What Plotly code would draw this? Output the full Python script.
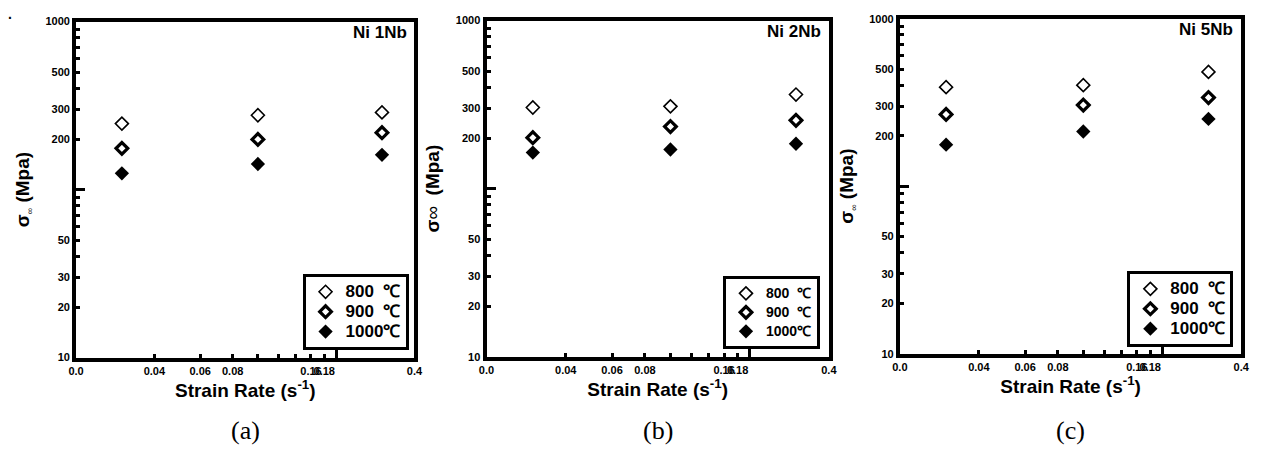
import plotly.graph_objects as go

W, H = 1269, 462

# ---- data ----
strain_rates = [0.03, 0.1, 0.3]
temps = ["800  ℃", "900  ℃", "1000℃"]
ni1nb_800 = [247, 277, 288]
ni1nb_900 = [176, 199, 218]
ni1nb_1000 = [125, 142, 161]
ni2nb_800 = [304, 309, 363]
ni2nb_900 = [201, 234, 255]
ni2nb_1000 = [164, 171, 185]
ni5nb_800 = [390, 401, 481]
ni5nb_900 = [268, 305, 338]
ni5nb_1000 = [177, 212, 252]
alloys = ["Ni 1Nb", "Ni 2Nb", "Ni 5Nb"]
panel_labels = ["(a)", "(b)", "(c)"]

x_tickvals = [0.02, 0.04, 0.06, 0.08, 0.1, 0.12, 0.14, 0.16, 0.18, 0.4]
x_ticktext = ["0.0", "0.04", "0.06", "0.08", "", "", "", "0.16", "0.18", "0.4"]
y_tickvals = [10, 20, 30, 40, 50, 60, 70, 80, 90, 200, 300, 400, 500, 600, 700, 800, 900, 1000]
y_ticktext = ["10", "20", "30", "", "50", "", "", "", "", "200", "300", "", "500", "", "", "", "", "1000"]

series = [
    [ni1nb_800, ni1nb_900, ni1nb_1000],
    [ni2nb_800, ni2nb_900, ni2nb_1000],
    [ni5nb_800, ni5nb_900, ni5nb_1000],
]

FONT = "Liberation Sans, Arial, sans-serif"

# panel geometry in pixels (left, right, top, bottom)
panels = [
    (69, 412, 16, 361),
    (485, 832, 15, 360),
    (904, 1250, 13, 357),
]
# legend: right px, bottom px, box font size, text font size
legend_pos = [(406, 353, 13, 17), (823, 352, 12, 14), (1242, 350, 13, 17)]
ytitles = [
    "σ<sub><span style='font-size:9px;font-weight:normal'>∞</span></sub> (Mpa)",
    "σ<span style='font-weight:normal'>∞</span>  (Mpa)",
    "σ<sub><span style='font-size:9px;font-weight:normal'>∞</span></sub> (Mpa)",
]

marker_styles = [
    dict(symbol="diamond-open", size=10, color="black", line=dict(width=1.6, color="black")),
    dict(symbol="diamond-open", size=9, color="black", line=dict(width=3.2, color="black")),
    dict(symbol="diamond", size=11, color="black", line=dict(width=0, color="black")),
]

fig = go.Figure()
layout = {}
annotations = []
for i, (vals, (l, r, t, b)) in enumerate(zip(series, panels)):
    sfx = "" if i == 0 else str(i + 1)
    leg = "legend" if i == 0 else f"legend{i + 1}"
    lx, ly, lf, tf = legend_pos[i]
    for name, v, ms in zip(temps, vals, marker_styles):
        fig.add_trace(go.Scatter(
            x=strain_rates, y=v, mode="markers",
            name=f"<span style='font-size:{tf}px'>{name}</span>",
            marker=ms, xaxis="x" + sfx, yaxis="y" + sfx, legend=leg,
        ))
    xd = [l / W, r / W]
    yd = [1 - b / H, 1 - t / H]
    layout["xaxis" + sfx] = dict(
        domain=xd, type="log", range=[-1.69897, -0.39794], anchor="y" + sfx,
        tickmode="array", tickvals=x_tickvals, ticktext=x_ticktext, tickangle=0,
        ticks="inside", ticklen=4, tickwidth=3, tickcolor="black",
        minor=dict(tickmode="array", tickvals=[0.2], ticks="inside", ticklen=10, tickwidth=3, tickcolor="black"),
        showline=True, linewidth=4, linecolor="black", mirror=True, showgrid=False, zeroline=False,
        tickfont=dict(family=FONT, size=11, color="black", weight="bold"),
        title=dict(text="Strain Rate (s<sup>-1</sup>)", font=dict(family=FONT, size=19, color="black", weight="bold"), standoff=5),
    )
    layout["yaxis" + sfx] = dict(
        domain=yd, type="log", range=[1, 3], anchor="x" + sfx,
        tickmode="array", tickvals=y_tickvals, ticktext=y_ticktext,
        ticks="inside", ticklen=4, tickwidth=3, tickcolor="black",
        minor=dict(tickmode="array", tickvals=[100], ticks="inside", ticklen=9, tickwidth=3, tickcolor="black"),
        showline=True, linewidth=4, linecolor="black", mirror=True, showgrid=False, zeroline=False,
        tickfont=dict(family=FONT, size=11, color="black", weight="bold"),
        title=dict(text=ytitles[i], font=dict(family=FONT, size=19, color="black", weight="bold"), standoff=12),
    )
    layout[leg] = dict(
        x=lx / W, y=1 - ly / H, xanchor="right", yanchor="bottom",
        bordercolor="black", borderwidth=3, bgcolor="white",
        font=dict(family=FONT, size=lf, color="black", weight="bold"),
        itemwidth=30, tracegroupgap=0,
    )
    annotations.append(dict(
        text=alloys[i], xref="paper", yref="paper", x=(r - 6) / W, y=1 - (t + 11) / H,
        xanchor="right", yanchor="middle", showarrow=False,
        font=dict(family=FONT, size=17, color="black", weight="bold"),
    ))
    annotations.append(dict(
        text=panel_labels[i], xref="paper", yref="paper", x=(l + r) / 2 / W, y=1 - 436 / H,
        xanchor="center", yanchor="middle", showarrow=False,
        font=dict(family="Liberation Serif, Times New Roman, serif", size=26, color="black"),
    ))

annotations.append(dict(text="<b>.</b>", xref="paper", yref="paper", x=2 / W, y=1 - 8 / H,
                        xanchor="center", yanchor="middle", showarrow=False,
                        font=dict(family=FONT, size=14, color="black")))

fig.update_layout(
    width=W, height=H, margin=dict(l=0, r=0, t=0, b=0),
    paper_bgcolor="white", plot_bgcolor="white", showlegend=True,
    annotations=annotations, **layout,
)

fig.write_html("out.html", config={"displayModeBar": False},
               post_script="document.body.style.margin='0px';document.body.style.overflow='hidden';")
